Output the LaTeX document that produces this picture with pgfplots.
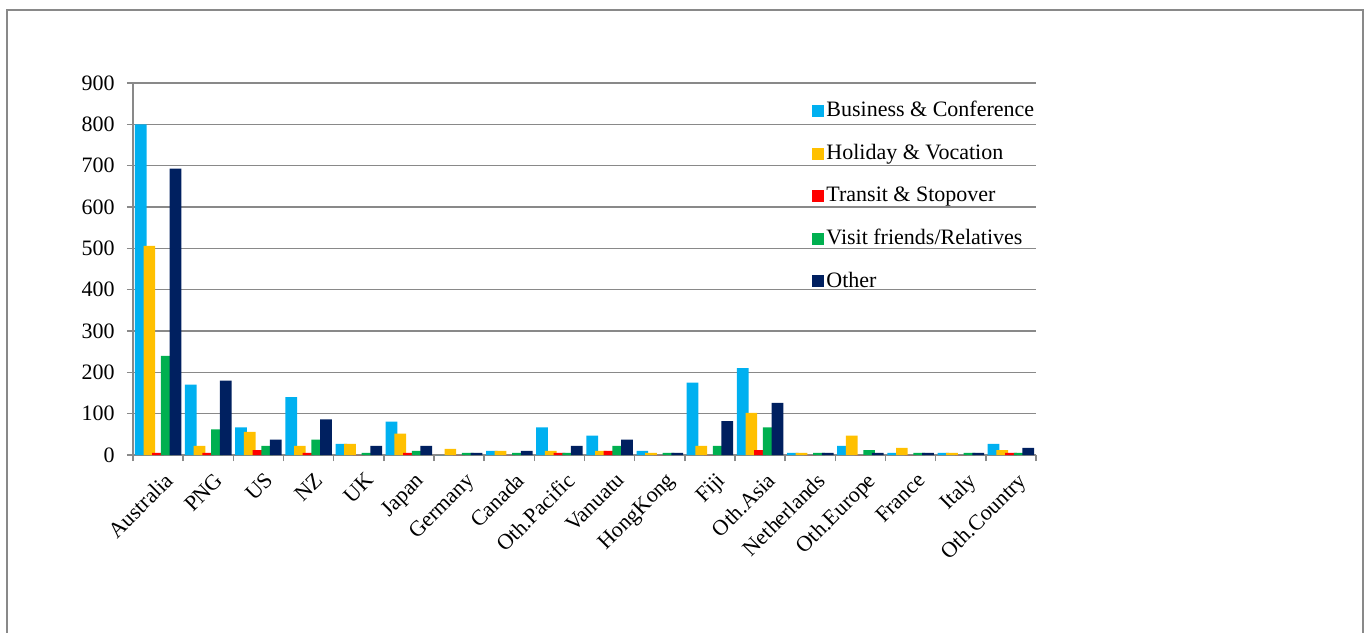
\documentclass[border=0pt]{standalone}
\usepackage{fontspec}
\setmainfont{Liberation Serif}
\usepackage{pgfplots}
\usepackage{pgfplotstable}
\pgfplotsset{compat=1.18}

\definecolor{cBus}{HTML}{00B0F0}
\definecolor{cHol}{HTML}{FFC000}
\definecolor{cTra}{HTML}{FF0000}
\definecolor{cVis}{HTML}{00B050}
\definecolor{cOth}{HTML}{002060}
\definecolor{axgray}{HTML}{898989}

% visitors by country and purpose of visit
\pgfplotstableread{
idx B   H   T  V   O
0   800 506 5  240 693
1   170 22  5  62  180
2   67  56  12 22  37
3   140 22  5  37  86
4   27  27  0  5   22
5   81  52  5  10  22
6   0   15  0  5   5
7   10  10  0  5   10
8   67  10  5  5   22
9   47  10  10 22  37
10  10  5   0  5   5
11  175 22  0  22  82
12  210 102 12 67  126
13  5   5   0  5   5
14  22  47  0  12  5
15  5   17  0  5   5
16  5   5   0  5   5
17  27  12  5  5   17
}\visits

\pgfplotsset{
  sq legend/.style={legend image code/.code={\fill[##1] (0pt,-3pt) rectangle (6pt,3pt);}},
}

\begin{document}
\begin{tikzpicture}
\useasboundingbox (-66.5pt,-88.5pt) rectangle (616pt,227.5pt);
\draw[axgray, line width=1pt] (-63pt,-100pt) -- (-63pt,222.5pt) -- (615pt,222.5pt) -- (615pt,-100pt);
\begin{axis}[
    at={(0,0)}, anchor=south west,
    scale only axis,
    width=451.5pt, height=186pt,
    ybar=-1.5pt, bar width=5.85pt,
    xmin=-0.5, xmax=17.5,
    ymin=0, ymax=900,
    ytick={0,100,...,900},
    xtick={0,...,17},
    xticklabels={Australia,PNG,US,NZ,UK,Japan,Germany,Canada,Oth.Pacific,Vanuatu,HongKong,Fiji,Oth.Asia,Netherlands,Oth.Europe,France,Italy,Oth.Country},
    minor xtick={-0.5,0.5,...,17.5},
    major x tick style={draw=none},
    minor x tick style={draw=axgray, line width=0.75pt},
    ytick style={draw=axgray, line width=0.75pt},
    tick align=outside,
    major tick length=3pt, minor tick length=3pt,
    axis x line*=bottom, axis y line*=left,
    axis line style={draw=axgray, line width=0.75pt, -},
    ymajorgrids,
    grid style={draw=axgray, line width=0.75pt},
    tick label style={font=\fontsize{11pt}{13pt}\selectfont},
    /pgf/number format/assume math mode=true,
    xticklabel style={rotate=45, anchor=north east, inner sep=1pt, xshift=-0.5pt, yshift=-4.5pt},
    yticklabel style={inner sep=1pt, xshift=-5pt},
    legend style={draw=none, fill=none, at={(0.752,0.957)}, anchor=north west,
        inner sep=0pt, row sep=10.25pt, font=\fontsize{11pt}{13pt}\selectfont,
        nodes={inner sep=1pt}},
    legend cell align=left,
]
\addplot[fill=cBus, draw=none, sq legend] table[x=idx, y=B] {\visits};
\addlegendentry{Business \& Conference}
\addplot[fill=cHol, draw=none, sq legend] table[x=idx, y=H] {\visits};
\addlegendentry{Holiday \& Vocation}
\addplot[fill=cTra, draw=none, sq legend] table[x=idx, y=T] {\visits};
\addlegendentry{Transit \& Stopover}
\addplot[fill=cVis, draw=none, sq legend] table[x=idx, y=V] {\visits};
\addlegendentry{Visit friends/Relatives}
\addplot[fill=cOth, draw=none, sq legend] table[x=idx, y=O] {\visits};
\addlegendentry{Other}
\end{axis}
\end{tikzpicture}
\end{document}
